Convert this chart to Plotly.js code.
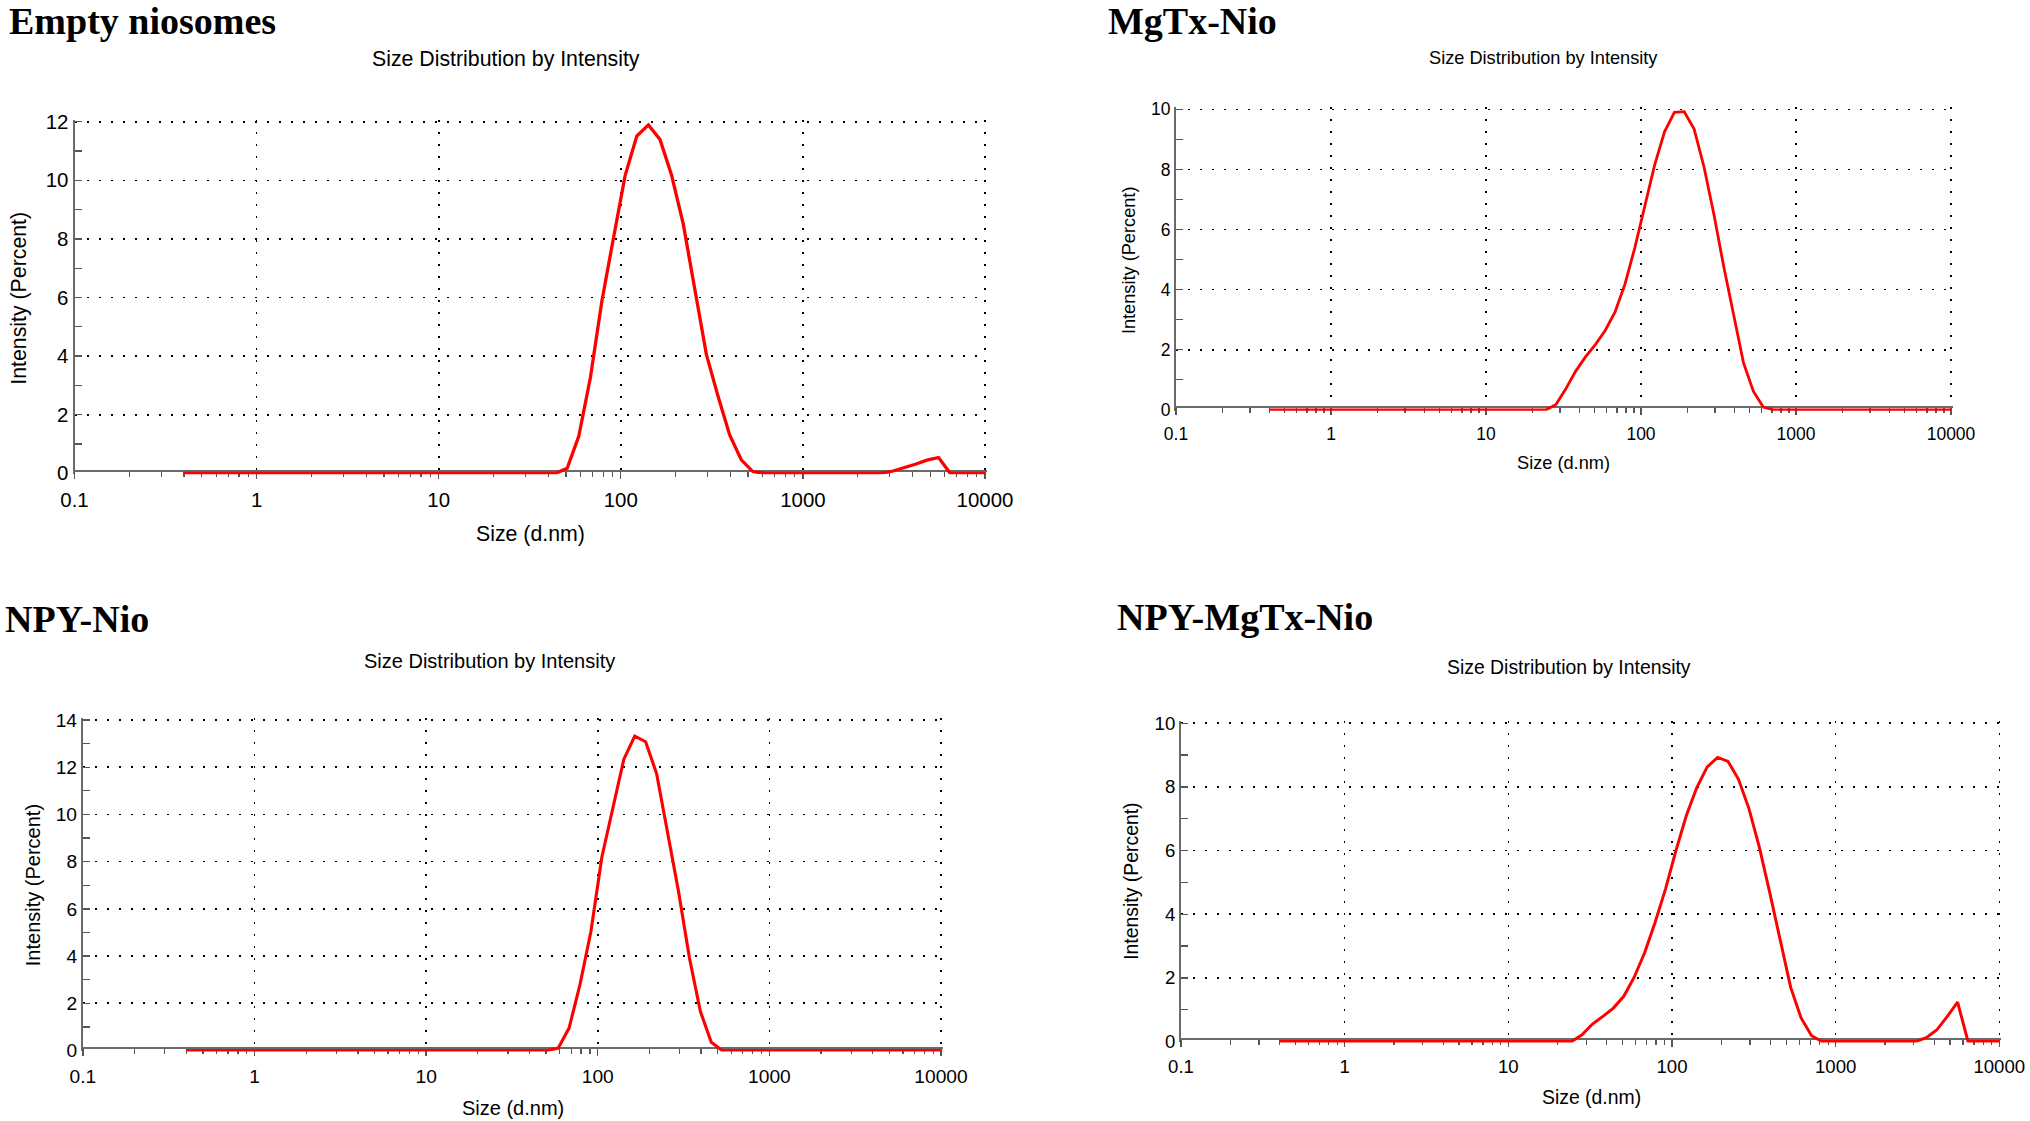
<!DOCTYPE html>
<html><head><meta charset="utf-8">
<script src="https://cdn.plot.ly/plotly-3.0.1.min.js"></script>
<style>html,body{margin:0;padding:0;background:#fff;}#chart{width:2030px;height:1121px;}</style>
</head><body><div id="chart"></div>
<script>
// ---- data ----
const sizeBins = [0.4, 0.4632, 0.5365, 0.6213, 0.7195, 0.8332, 0.9649, 1.117, 1.294, 1.499,
  1.736, 2.01, 2.328, 2.696, 3.122, 3.615, 4.187, 4.849, 5.615, 6.503,
  7.531, 8.721, 10.1, 11.7, 13.54, 15.69, 18.17, 21.04, 24.36, 28.21,
  32.67, 37.84, 43.82, 50.75, 58.77, 68.06, 78.82, 91.28, 105.7, 122.4,
  141.8, 164.2, 190.1, 220.2, 255, 295.3, 342, 396.1, 458.7, 531.2,
  615.1, 712.4, 825, 955.4, 1106, 1281, 1484, 1718, 1990, 2305,
  2669, 3091, 3580, 4145, 4801, 5560, 6439, 7456, 8635, 10000];

const intensityEmpty = [0,0,0,0,0,0,0,0,0,0, 0,0,0,0,0,0,0,0,0,0, 0,0,0,0,0,0,0,0,0,0,
  0,0,0,0.17,1.26,3.26,5.9,8.05,10.17,11.51, 11.89,11.39,10.17,8.51,6.34,4.05,2.63,1.31,0.46,0.06,
  0,0,0,0,0,0,0,0,0,0, 0,0.07,0.18,0.31,0.45,0.54,0,0,0,0];
const intensityMgTx = [0,0,0,0,0,0,0,0,0,0, 0,0,0,0,0,0,0,0,0,0, 0,0,0,0,0,0,0,0,0,0.17,
  0.69,1.28,1.76,2.17,2.64,3.26,4.18,5.4,6.74,8.14, 9.25,9.9,9.92,9.34,8.08,6.51,4.76,3.13,1.56,0.61,
  0.09,0,0,0,0,0,0,0,0,0, 0,0,0,0,0,0,0,0,0,0];
const intensityNPY = [0,0,0,0,0,0,0,0,0,0, 0,0,0,0,0,0,0,0,0,0, 0,0,0,0,0,0,0,0,0,0,
  0,0,0,0,0.1,0.95,2.8,5.05,8.2,10.3, 12.33,13.32,13.08,11.73,9.15,6.75,3.93,1.66,0.35,0,
  0,0,0,0,0,0,0,0,0,0, 0,0,0,0,0,0,0,0,0,0];
const intensityNPYMgTx = [0,0,0,0,0,0,0,0,0,0, 0,0,0,0,0,0,0,0,0,0, 0,0,0,0,0,0,0,0,0,0.21,
  0.55,0.79,1.05,1.42,2.02,2.79,3.74,4.79,6.0,7.1, 7.98,8.63,8.93,8.8,8.24,7.32,6.1,4.67,3.19,1.7,
  0.74,0.18,0,0,0,0,0,0,0,0, 0,0,0.12,0.36,0.78,1.24,0,0,0,0];

const panelTitles = ['Empty niosomes', 'MgTx-Nio', 'NPY-Nio', 'NPY-MgTx-Nio'];
const chartSubtitle = 'Size Distribution by Intensity';
const xAxisTitle = 'Size (d.nm)';
const yAxisTitle = 'Intensity (Percent)';
const xTickVals = [0.1, 1, 10, 100, 1000, 10000];
const xTickText = ['0.1', '1', '10', '100', '1000', '10000'];
const yMaxima = [12, 10, 14, 10];

// ---- layout geometry (pixels) ----
const W = 2030, H = 1121;
const series = [intensityEmpty, intensityMgTx, intensityNPY, intensityNPYMgTx];
const box = [
  {xL: 74.5, xR: 985, yTop: 121.7, y0: 473.3, fs: 21.3},
  {xL: 1176, xR: 1951, yTop: 109.3, y0: 409.8, fs: 18.2},
  {xL: 82.9, xR: 941, yTop: 720, y0: 1050.5, fs: 20},
  {xL: 1181, xR: 1999.3, yTop: 723.3, y0: 1041.5, fs: 19.4}
];
const textPos = [
  {title: [6.5, 21.5], sub: [505.8, 58.6], xt: [530.8, 533.6], yt: [19.3, 298.4]},
  {title: [1106, 21.5], sub: [1543.5, 57.5], xt: [1563.9, 462.7], yt: [1129.2, 259.9]},
  {title: [3, 618.9], sub: [489.3, 661], xt: [512.6, 1108.4], yt: [32.9, 885.3]},
  {title: [1115, 617.2], sub: [1569.4, 667.3], xt: [1591, 1096.9], yt: [1131.1, 881.7]}
];
const SANS = 'Liberation Sans, Arial, sans-serif';
const SERIF = 'Liberation Serif, Times New Roman, serif';
const px = v => v / W, py = v => 1 - v / H;

const data = [];
const layout = {
  width: W, height: H, margin: {l: 0, r: 0, t: 0, b: 0},
  paper_bgcolor: '#fff', plot_bgcolor: '#fff', showlegend: false,
  annotations: []
};

box.forEach((b, i) => {
  const n = i === 0 ? '' : String(i + 1);
  const dec = (b.xR - b.xL) / 5;
  const unit = (b.y0 - b.yTop) / yMaxima[i];
  const s = dec / 182.1;
  const tfs = b.fs * 0.96;
  data.push({
    type: 'scatter', mode: 'lines', x: sizeBins, y: series[i],
    xaxis: 'x' + n, yaxis: 'y' + n,
    line: {color: '#ff0000', width: 3.3 * s, shape: 'linear'},
    hoverinfo: 'skip'
  });
  layout['xaxis' + n] = {
    type: 'log', range: [-1, 4 + 2 / dec], domain: [px(b.xL), px(b.xR + 2)],
    anchor: 'free', position: py(b.y0 - 2.5),
    showline: true, linecolor: '#6a6a6a', linewidth: 2,
    tickmode: 'array', tickvals: xTickVals, ticktext: xTickText,
    ticks: 'outside', ticklen: 7, tickwidth: 1.3, tickcolor: '#555',
    minor: {ticks: 'outside', ticklen: 5, tickwidth: 1.3, tickcolor: '#555', dtick: 'D1', showgrid: false},
    showgrid: true, gridcolor: '#000', gridwidth: 1.6, griddash: '2px,10px',
    zeroline: false, layer: 'below traces', fixedrange: true,
    ticklabelstandoff: 4,
    tickfont: {family: SANS, size: tfs, color: '#000'}
  };
  layout['yaxis' + n] = {
    range: [-0.9 / unit, yMaxima[i] + 2 / unit],
    domain: [py(b.y0 + 0.9), py(b.yTop - 2)],
    anchor: 'x' + n,
    showline: true, linecolor: '#6a6a6a', linewidth: 2,
    tickmode: 'linear', tick0: 0, dtick: 2,
    ticks: 'inside', ticklen: 7, tickwidth: 1.3, tickcolor: '#555',
    minor: {ticks: 'inside', ticklen: 7, tickwidth: 1.3, tickcolor: '#555', tick0: 0, dtick: 1, showgrid: false},
    showgrid: true, gridcolor: '#000', gridwidth: 1.6, griddash: '2px,10px',
    zeroline: false, layer: 'below traces', fixedrange: true,
    tickfont: {family: SANS, size: tfs, color: '#000'}
  };
  const t = textPos[i];
  layout.annotations.push(
    {text: '<b>' + panelTitles[i] + '</b>', xref: 'paper', yref: 'paper', x: px(t.title[0]), y: py(t.title[1]),
     xanchor: 'left', yanchor: 'middle', showarrow: false, font: {family: SERIF, size: 38, color: '#000'}},
    {text: chartSubtitle, xref: 'paper', yref: 'paper', x: px(t.sub[0]), y: py(t.sub[1]),
     xanchor: 'center', yanchor: 'middle', showarrow: false, font: {family: SANS, size: b.fs, color: '#000'}},
    {text: xAxisTitle, xref: 'paper', yref: 'paper', x: px(t.xt[0]), y: py(t.xt[1]),
     xanchor: 'center', yanchor: 'middle', showarrow: false, font: {family: SANS, size: b.fs, color: '#000'}},
    {text: yAxisTitle, xref: 'paper', yref: 'paper', x: px(t.yt[0]), y: py(t.yt[1]), textangle: -90,
     xanchor: 'center', yanchor: 'middle', showarrow: false, font: {family: SANS, size: b.fs, color: '#000'}}
  );
});

Plotly.newPlot('chart', data, layout, {staticPlot: true, displayModeBar: false});
</script>
</body></html>
